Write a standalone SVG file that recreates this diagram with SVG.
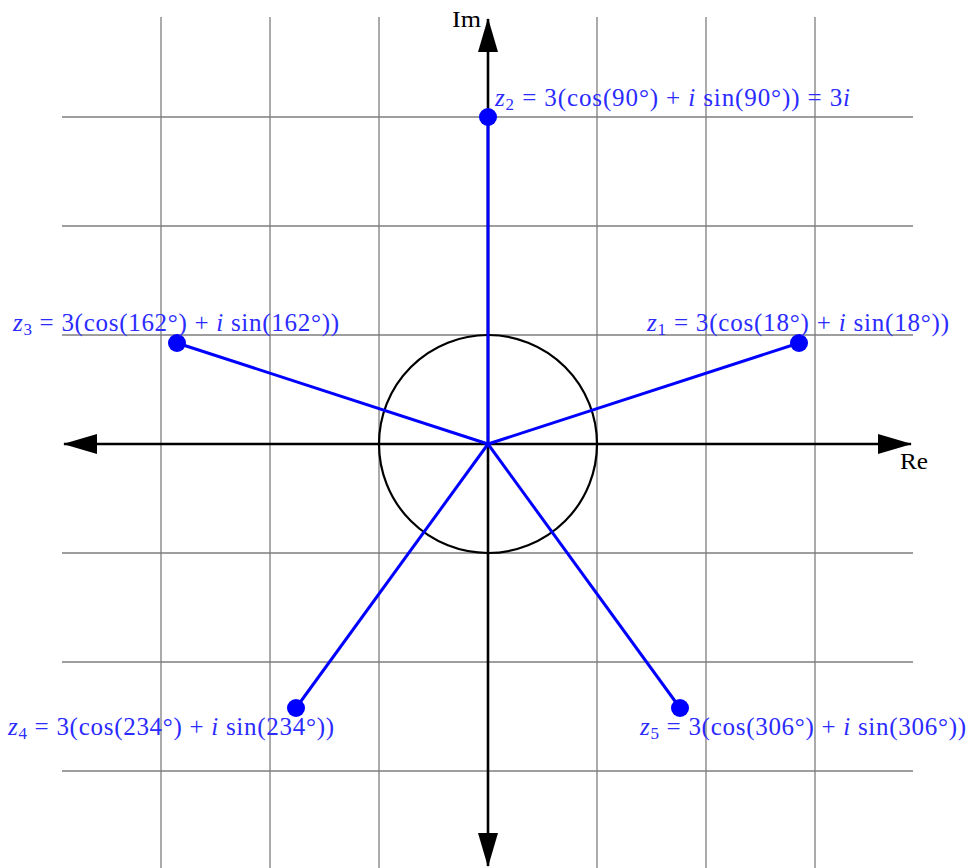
<svg xmlns="http://www.w3.org/2000/svg" width="969" height="868" viewBox="0 0 969 868">
<style>
.grid{stroke:#7f7f7f;stroke-width:1.3;fill:none}
.axis{stroke:#000;stroke-width:2.6;fill:none}
.ray{stroke:#0000ff;stroke-width:3;fill:none}
.dot{fill:#0000ff}
.lbl{font-family:"Liberation Serif","DejaVu Serif",serif;font-size:25px;fill:#2b2bff}
.ax{font-family:"Liberation Serif","DejaVu Serif",serif;font-size:24px;fill:#000}
.it{font-style:italic}
.sub{font-size:17px}
</style>
<defs>
<marker id="arr" viewBox="0 0 34 20" refX="33" refY="10" markerWidth="34" markerHeight="20" markerUnits="userSpaceOnUse" orient="auto-start-reverse">
<path d="M0,0 L34,10 L0,20 z" fill="#000"/>
</marker>
</defs>
<g id="grid">
<path class="grid" d="M161,17V868M270,17V868M379,17V868M597,17V868M706,17V868M815,17V868"/>
<path class="grid" d="M62,117H913M62,226H913M62,335H913M62,553H913M62,662H913M62,771H913"/>
</g>
<g id="unit-circle">
<circle cx="488" cy="444" r="109" fill="none" stroke="#000" stroke-width="2.2"/>
</g>
<g id="connectors">
<line class="axis" x1="64" y1="444" x2="911" y2="444" marker-start="url(#arr)" marker-end="url(#arr)"/>
<line class="axis" x1="488" y1="866" x2="488" y2="19" marker-start="url(#arr)" marker-end="url(#arr)"/>
<line class="ray" x1="488" y1="444" x2="799" y2="343"/>
<line class="ray" x1="488" y1="444" x2="488" y2="117"/>
<line class="ray" x1="488" y1="444" x2="177" y2="343"/>
<line class="ray" x1="488" y1="444" x2="296" y2="708"/>
<line class="ray" x1="488" y1="444" x2="680" y2="708"/>
</g>
<g id="axis-labels">
<text class="ax" x="452" y="27" textLength="29" lengthAdjust="spacingAndGlyphs">Im</text>
<text class="ax" x="900" y="469" textLength="28" lengthAdjust="spacingAndGlyphs">Re</text>
</g>
<g id="z1">
<circle class="dot" cx="799" cy="343" r="9"/>
<text class="lbl" x="647" y="331" textLength="302" lengthAdjust="spacing"><tspan class="it">z</tspan><tspan class="sub" dy="4">1</tspan><tspan dy="-4"> = 3(cos(18°) + </tspan><tspan class="it">i</tspan><tspan> sin(18°))</tspan></text>
</g>
<g id="z2">
<circle class="dot" cx="488" cy="117" r="9"/>
<text class="lbl" x="495" y="106" textLength="355" lengthAdjust="spacing"><tspan class="it">z</tspan><tspan class="sub" dy="4">2</tspan><tspan dy="-4"> = 3(cos(90°) + </tspan><tspan class="it">i</tspan><tspan> sin(90°)) = 3</tspan><tspan class="it">i</tspan></text>
</g>
<g id="z3">
<circle class="dot" cx="177" cy="343" r="9"/>
<text class="lbl" x="13" y="331" textLength="326" lengthAdjust="spacing"><tspan class="it">z</tspan><tspan class="sub" dy="4">3</tspan><tspan dy="-4"> = 3(cos(162°) + </tspan><tspan class="it">i</tspan><tspan> sin(162°))</tspan></text>
</g>
<g id="z4">
<circle class="dot" cx="296" cy="708" r="9"/>
<text class="lbl" x="8" y="735" textLength="326" lengthAdjust="spacing"><tspan class="it">z</tspan><tspan class="sub" dy="4">4</tspan><tspan dy="-4"> = 3(cos(234°) + </tspan><tspan class="it">i</tspan><tspan> sin(234°))</tspan></text>
</g>
<g id="z5">
<circle class="dot" cx="680" cy="708" r="9"/>
<text class="lbl" x="640" y="735" textLength="326" lengthAdjust="spacing"><tspan class="it">z</tspan><tspan class="sub" dy="4">5</tspan><tspan dy="-4"> = 3(cos(306°) + </tspan><tspan class="it">i</tspan><tspan> sin(306°))</tspan></text>
</g>
</svg>
